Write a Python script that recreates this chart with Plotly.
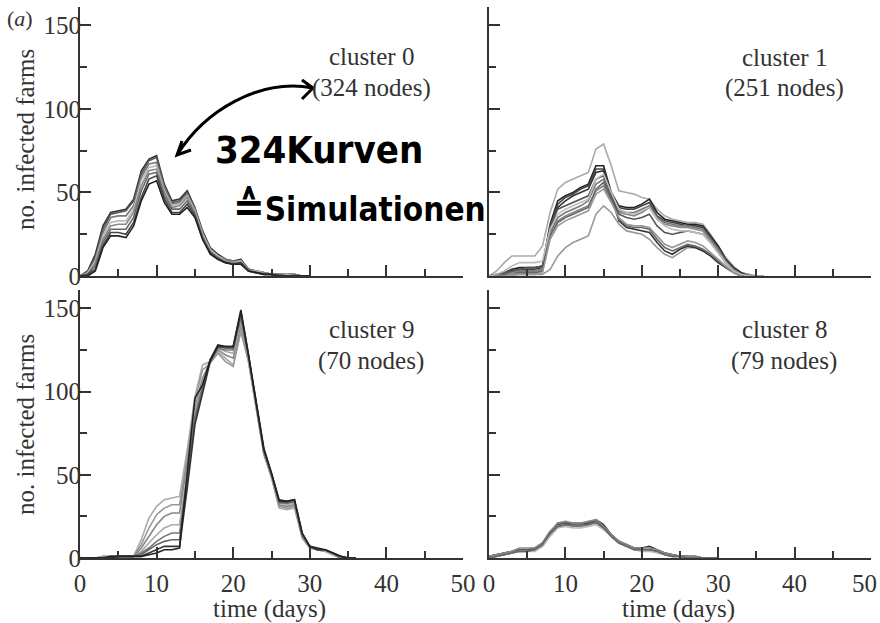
import plotly.graph_objects as go

# ---------------- data ----------------
days = list(range(0, 37))

# cluster 0 (324 nodes)
c0_1 = [0,3,13,30,38,39,40,46,63,70,72,55,45,46,51,41,27,17,13,10,9,10,4,3,2,1,1,1,1,0,0]
c0_2 = [0,2,11,28,37,38,39,45,61,69,71,54,44,45,50,40,26,16,12,10,8,9,4,3,2,1,1,1,0,0,0]
c0_3 = [0,2,10,26,35,36,36,42,59,67,68,53,43,44,49,40,26,16,12,10,9,9,4,3,2,1,1,1,1,0,0]
c0_4 = [0,2,9,24,32,33,33,40,57,65,66,51,42,43,48,39,25,16,12,9,8,9,3,3,2,1,1,1,0,0,0]
c0_5 = [0,1,8,22,30,31,31,38,54,63,64,50,41,42,47,38,24,15,11,9,8,8,3,2,2,1,1,0,0,0,0]
c0_6 = [0,1,6,20,28,28,28,35,51,61,62,48,40,40,45,37,23,14,11,8,7,8,3,2,1,1,1,0,0,0,0]
c0_7 = [0,1,4,18,26,26,25,32,47,58,60,46,38,38,43,36,22,14,10,8,7,8,3,2,1,1,0,0,0,0,0]
c0_8 = [0,0,3,17,24,24,23,30,45,55,57,44,37,37,41,35,22,13,10,8,7,7,3,2,1,1,0,0,0,0,0]

# cluster 1 (251 nodes)
c1_1 = [0,3,8,12,12,12,12,18,38,52,56,58,60,62,76,79,66,51,50,49,47,46,40,36,34,33,32,32,31,25,18,11,6,2,1,0,0]
c1_2 = [0,0,0,0,1,1,1,1,4,12,17,20,22,24,37,42,38,31,27,26,25,22,17,13,11,14,17,17,15,12,8,5,3,2,1,0,0]
c1_3 = [0,1,2,4,5,5,5,6,31,45,48,50,53,55,66,66,50,42,41,41,43,46,38,34,33,32,31,31,30,24,18,10,5,2,0,0,0]
c1_4 = [0,1,2,3,4,4,4,5,29,43,47,49,52,54,64,64,49,41,40,40,42,44,36,33,32,31,30,30,29,23,17,9,4,1,0,0,0]
c1_5 = [0,0,1,2,3,3,3,4,28,41,45,48,50,52,62,63,48,33,29,28,27,26,20,15,13,16,18,17,15,12,8,5,2,0,0,0,0]
c1_6 = [0,0,1,2,2,2,2,3,26,35,38,40,42,45,55,58,47,39,38,38,40,42,35,32,31,30,30,29,28,22,16,9,4,1,0,0,0]
c1_7 = [0,1,1,2,3,3,3,4,25,33,36,38,40,42,51,54,45,38,37,36,38,41,34,31,30,29,29,28,27,21,15,8,4,1,0,0,0]
c1_8 = [0,0,1,1,2,2,2,3,24,32,35,37,39,41,52,56,46,34,30,29,29,28,22,17,15,17,19,18,16,13,9,5,2,0,0,0,0]
c1_9 = [0,0,0,1,1,1,1,2,22,30,33,35,37,39,49,52,44,35,31,30,30,29,24,19,17,19,21,20,18,14,10,6,2,0,0,0,0]
c1_10 = [0,1,2,3,4,5,5,6,30,40,42,44,46,48,58,60,48,37,35,34,35,37,30,26,25,26,27,26,25,20,14,8,3,1,0,0,0]
c1_11 = [0,1,3,6,8,8,8,9,28,37,40,42,44,46,58,61,50,40,38,37,39,41,34,30,28,27,27,26,25,20,14,8,3,1,0,0,0]

# cluster 9 (70 nodes)
c9_1 = [0,0,0,1,1,1,1,1,11,24,31,35,36,37,65,97,116,118,124,120,116,137,118,90,62,48,30,29,30,12,6,5,4,2,0,0,0]
c9_2 = [0,0,0,1,1,1,1,1,8,18,26,30,32,32,60,94,113,117,123,118,115,136,118,91,63,49,31,30,31,13,6,5,4,2,0,0,0]
c9_3 = [0,0,0,0,1,1,1,1,6,13,20,25,27,27,57,90,108,118,125,122,120,140,120,92,64,50,32,31,32,13,7,5,4,3,0,0,0]
c9_4 = [0,0,0,0,1,1,1,1,4,9,14,18,20,20,52,88,105,119,126,124,123,142,119,91,63,49,33,32,33,14,7,5,4,2,0,0,0]
c9_5 = [0,0,0,0,0,1,1,1,3,6,10,13,15,15,48,85,103,119,126,125,125,144,121,93,65,50,33,33,34,14,7,5,5,3,0,0,0]
c9_6 = [0,0,0,0,0,1,1,1,2,5,8,10,11,11,45,83,101,119,127,126,126,146,121,92,64,50,34,33,34,14,7,5,5,3,1,0,0]
c9_7 = [0,0,0,0,0,1,1,1,1,3,5,7,7,7,42,80,99,118,127,127,127,148,122,93,65,51,34,34,35,15,7,5,5,3,1,0,0]
c9_8 = [0,0,0,0,1,1,1,1,1,2,3,5,5,6,50,96,104,119,128,127,127,149,122,94,66,51,35,34,35,15,7,6,5,3,1,0,0]

# cluster 8 (79 nodes)
c8_1 = [1,2,3,4,5,5,5,8,15,21,21,20,20,21,23,20,14,10,8,6,6,7,5,3,2,1,1,1,0,0,0]
c8_2 = [1,2,3,4,5,5,6,9,16,20,21,21,21,21,22,19,14,10,8,6,5,5,4,3,2,1,1,0,0,0,0]
c8_3 = [0,1,2,3,4,4,5,7,14,19,20,19,19,20,21,18,13,9,7,5,5,5,4,2,1,1,1,0,0,0,0]
c8_4 = [0,1,2,3,4,4,4,7,13,18,19,18,18,19,20,17,13,9,7,5,4,4,3,2,1,1,0,0,0,0,0]
c8_5 = [1,2,3,4,6,6,6,9,16,21,22,21,21,22,23,19,14,10,8,6,6,6,5,3,2,1,1,1,0,0,0]
c8_6 = [0,1,2,3,4,4,5,8,15,19,20,20,20,20,22,18,13,9,7,5,5,5,4,2,1,1,0,0,0,0,0]

cluster_names = ["cluster 0", "cluster 1", "cluster 9", "cluster 8"]
cluster_sizes = ["(324 nodes)", "(251 nodes)", "(70 nodes)", "(79 nodes)"]
x_ticks = [0, 10, 20, 30, 40, 50]
x_ticktext = ["0", "10", "20", "30", "40", "50"]
y_ticks = [0, 50, 100, 150]

panels = [
    ([c0_1, c0_2, c0_3, c0_4, c0_5, c0_6, c0_7, c0_8], ("x", "y")),
    ([c1_1, c1_2, c1_3, c1_4, c1_5, c1_6, c1_7, c1_8, c1_9, c1_10, c1_11], ("x2", "y2")),
    ([c9_1, c9_2, c9_3, c9_4, c9_5, c9_6, c9_7, c9_8], ("x3", "y3")),
    ([c8_1, c8_2, c8_3, c8_4, c8_5, c8_6], ("x4", "y4")),
]
shades = ["#333333", "#555555", "#777777", "#bbbbbb", "#888888", "#666666",
          "#444444", "#222222", "#999999", "#555555", "#aaaaaa"]
shades_c1 = ["#aaaaaa", "#999999", "#222222", "#444444", "#333333", "#777777",
             "#888888", "#666666", "#999999", "#555555", "#bbbbbb"]
shades_c9 = ["#aaaaaa", "#999999", "#888888", "#aaaaaa", "#777777", "#666666",
             "#333333", "#222222"]

W, H = 880, 623
def px(x):
    return x / W
def py(y):
    return 1 - y / H

fig = go.Figure()
for k, (curves, (xa, ya)) in enumerate(panels):
    pal = shades_c1 if k == 1 else (shades_c9 if k == 2 else shades)
    for i, c in enumerate(curves):
        fig.add_trace(go.Scatter(
            x=days[:len(c)], y=c, mode="lines", xaxis=xa, yaxis=ya,
            line=dict(color=pal[i % len(pal)], width=1.6),
            showlegend=False, hoverinfo="skip"))

FONT = "Liberation Serif"
TXT = "#333333"
common_ax = dict(showline=True, linecolor="#333333", linewidth=2,
                 ticks="inside", ticklen=11, tickwidth=2, tickcolor="#333333",
                 showgrid=False, zeroline=False, automargin=False,
                 ticklabeloverflow="allow",
                 tickfont=dict(family=FONT, size=25, color=TXT))

xdom_l = [px(80), px(463)]
xdom_r = [px(489), px(871)]
ydom_t = [py(276), py(7)]
ydom_b = [py(558), py(290)]

def xax(dom, anchor, labels, last_label=True):
    d = dict(common_ax)
    texts = list(x_ticktext) if last_label else x_ticktext[:-1] + [""]
    d.update(domain=dom, anchor=anchor, range=[0, 50], tickvals=x_ticks,
             ticktext=texts, showticklabels=labels, ticklabelstandoff=2,
             minor=dict(ticks="inside", ticklen=7, tickwidth=2,
                        tickcolor="#333333", tickvals=[5, 15, 25, 35, 45]))
    return d

def yax(dom, anchor, labels):
    d = dict(common_ax)
    d.update(domain=dom, anchor=anchor, range=[0, 161], tickvals=y_ticks,
             showticklabels=labels, ticklabelstandoff=-8,
             minor=dict(ticks="inside", ticklen=7, tickwidth=2,
                        tickcolor="#333333", tickvals=[25, 75, 125]))
    return d

fig.update_layout(
    template="none",
    width=W, height=H, margin=dict(l=0, r=0, t=0, b=0, autoexpand=False),
    paper_bgcolor="white", plot_bgcolor="white", showlegend=False,
    xaxis=xax(xdom_l, "y", False), yaxis=yax(ydom_t, "x", True),
    xaxis2=xax(xdom_r, "y2", False), yaxis2=yax(ydom_t, "x2", False),
    xaxis3=xax(xdom_l, "y3", True), yaxis3=yax(ydom_b, "x3", True),
    xaxis4=xax(xdom_r, "y4", True, last_label=False), yaxis4=yax(ydom_b, "x4", False),
)

def note(x, y, text, size, **kw):
    d = dict(x=px(x), y=py(y), xref="paper", yref="paper", text=text,
             showarrow=False, xanchor="center", yanchor="middle",
             font=dict(family=FONT, size=size, color=TXT))
    d.update(kw)
    return d

ann = []
label_pos = [(371, 57, 88), (784, 58, 88), (371, 330, 361), (784, 329, 361)]
for name, size, (cx, y1, y2) in zip(cluster_names, cluster_sizes, label_pos):
    ann.append(note(cx, y1, name, 25))
    ann.append(note(cx, y2, size, 25))
for yc in (140, 425):
    ann.append(note(25, yc, "no. infected farms", 25, textangle=-90))
for xc in (269, 678):
    ann.append(note(xc, 609, "time (days)", 25))
# last tick label of the lower-right axis, kept inside the page
ann.append(note(879, 583, x_ticktext[-1], 25, xanchor="right"))
ann.append(note(20, 18, "(<i>a</i>)", 22))
# handwritten note
ann.append(note(213, 150, "<b>324Kurven</b>", 38, xanchor="left",
                font=dict(family="DejaVu Sans Condensed", size=38, color="black")))
ann.append(note(231, 206, "<b><span style='font-size:42px'>≙</span>Simulationen</b>", 33,
                xanchor="left",
                font=dict(family="DejaVu Sans Condensed", size=33, color="black")))
fig.update_layout(annotations=ann)

def pt(x, y):
    return f"{px(x):.5f},{py(y):.5f}"

arrow = (f"M {pt(177,155)} C {pt(205,110)} {pt(260,78)} {pt(313,88)} "
         f"M {pt(182,141)} L {pt(177,155)} L {pt(191,150)} "
         f"M {pt(302,80)} L {pt(313,88)} L {pt(302,99)}")
fig.add_shape(type="path", path=arrow, xref="paper", yref="paper",
              line=dict(color="black", width=3))

fig.write_html("out.html", config={"displayModeBar": False},
               post_script="document.body.style.margin='0';document.body.style.overflow='hidden';")
